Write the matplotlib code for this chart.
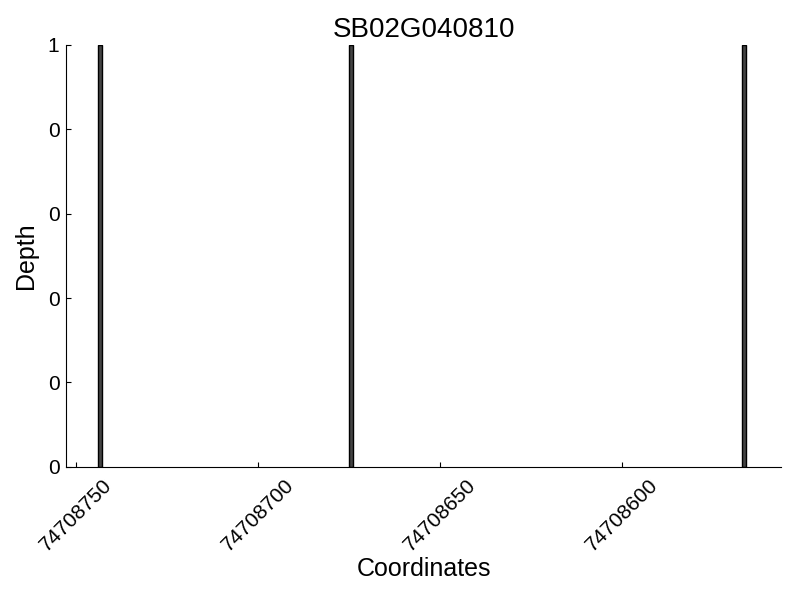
import numpy as np
import matplotlib.pyplot as plt
from matplotlib.ticker import FormatStrFormatter

plt.rcParams['font.family'] = ['Liberation Sans', 'DejaVu Sans']

gene = 'SB02G040810'
positions = [74708743.5, 74708674.5, 74708566.5]
depth = [1, 1, 1]
xticks = [74708750, 74708700, 74708650, 74708600]

fig, ax = plt.subplots(figsize=(8, 6), dpi=100)
fig.subplots_adjust(left=0.083, right=0.976, top=0.925, bottom=0.222)

ax.bar(positions, depth, width=1.2, color='#444444', edgecolor='black', linewidth=1.0)
ax.set_xlim(74708752.7, 74708556.3)
ax.set_ylim(0, 1)
ax.set_xticks(xticks)
ax.set_xticklabels([str(t) for t in xticks], rotation=45, ha='center', fontsize=15)
ax.set_yticks(np.linspace(0, 1, 6))
ax.yaxis.set_major_formatter(FormatStrFormatter('%d'))
ax.tick_params(axis='both', direction='in', labelsize=15)
ax.tick_params(axis='x', pad=6)
ax.tick_params(axis='y', pad=5)
for s in ['top', 'right']:
    ax.spines[s].set_visible(False)

ax.set_xlabel('Coordinates', fontsize=18, labelpad=2)
ax.set_ylabel('Depth', fontsize=18, labelpad=7)
ax.set_title(gene, fontsize=20)

fig.savefig('out.png')
